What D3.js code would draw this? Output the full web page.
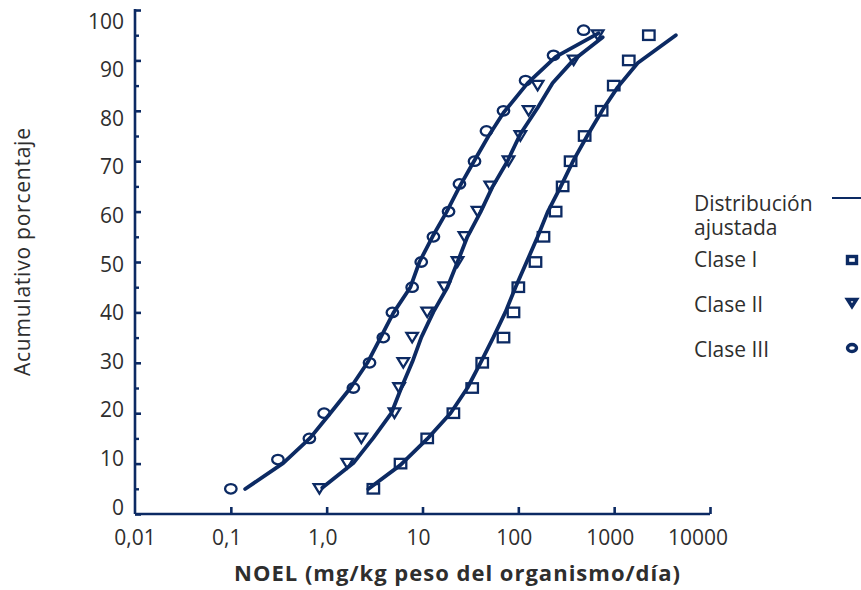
<!DOCTYPE html>
<html>
<head>
<meta charset="utf-8">
<script src="https://cdn.jsdelivr.net/npm/d3@7"></script>
<style>
  html, body { margin: 0; padding: 0; background: #ffffff; }
  svg { display: block; }
  text { font-family: "Open Sans", Lato, sans-serif; fill: #2e2e2e; }
</style>
</head>
<body>
<svg id="chart" width="861" height="590"></svg>
<script>
// ---------- data ----------
const xTickValues = [0.01, 0.1, 1, 10, 100, 1000, 10000];
const xTickLabels = ["0,01", "0,1", "1,0", "10", "100", "1000", "10000"];
const yTickValues = [0, 10, 20, 30, 40, 50, 60, 70, 80, 90, 100];
const yMinorValues = [5, 15, 25, 35, 45, 55, 65, 75, 85, 95];

// Clase I (squares)
const claseIx = [3.07, 5.9, 11.2, 21, 33, 42, 70, 89, 100, 151, 183, 245, 290, 351, 492, 740, 990, 1420, 2300];
const claseIy = [5, 10, 15, 20, 25, 30, 35, 40, 45, 50, 55, 60, 65, 70, 75, 80, 85, 90, 95];
// Clase II (triangles)
const claseIIx = [0.84, 1.64, 2.3, 5.1, 5.7, 6.3, 7.8, 11.2, 16.9, 23.2, 27.4, 37.5, 51, 79, 105, 128, 159, 378, 673];
const claseIIy = [5, 10, 15, 20, 25, 30, 35, 40, 45, 50, 55, 60, 65, 70, 75, 80, 85, 90, 95];
// Clase III (circles)
const claseIIIx = [0.10, 0.31, 0.66, 0.94, 1.9, 2.8, 3.9, 4.85, 7.8, 9.7, 13, 18.7, 24.3, 34.9, 46.5, 70, 119, 233, 480];
const claseIIIy = [5, 10.8, 15, 20, 25, 30, 35, 40, 45, 50, 55, 60, 65.5, 70, 76, 80, 86, 91, 96];

// Fitted distributions
const fitIx = [2.72, 5.87, 11.2, 19.6, 29.4, 40.3, 55, 73.5, 93.5, 122, 159, 202, 276, 377, 529, 759, 1090, 1760, 4400];
const fitIy = [4.96, 9.7, 14.9, 20, 25, 30, 35.1, 40.1, 45, 50, 55, 59.9, 64.9, 70.2, 75.2, 80.2, 84.7, 89.5, 95];
const fitIIx = [0.90, 1.90, 3.07, 4.73, 6.0, 7.84, 9.74, 13.0, 18.2, 23.2, 29.4, 40.3, 53.7, 77, 105, 159, 228, 377, 759];
const fitIIy = [5.2, 10.1, 15.1, 20, 25, 30.2, 35.1, 40.1, 45, 50, 55, 59.9, 64.9, 70, 75.4, 80.6, 85.5, 90.1, 94.6];
const fitIIIx = [0.141, 0.352, 0.674, 1.09, 1.77, 2.66, 3.63, 4.97, 7.48, 9.29, 12.7, 17.8, 24.3, 34, 48.9, 70, 125, 245, 689];
const fitIIIy = [4.96, 10.1, 15.1, 20, 25, 30, 34.9, 39.9, 45, 50, 55, 59.9, 64.9, 69.8, 75, 79.6, 85.5, 90.7, 95.4];

const legendFitLines = ["Distribución", "ajustada"];
const legendLabels = ["Clase I", "Clase II", "Clase III"];
const xTitle = "NOEL (mg/kg peso del organismo/día)";
const yTitle = "Acumulativo porcentaje";

// ---------- drawing ----------
const navy = "#0c2a63";
const svg = d3.select("#chart");

const x = d3.scaleLog().domain([0.01, 10000]).range([135, 710]);
const y = d3.scaleLinear().domain([0, 100]).range([514, 10]);

const zip = (xs, ys) => xs.map((v, i) => ({x: v, y: ys[i]}));

// y axis (ticks pointing inward)
const gy = svg.append("g").attr("transform", `translate(${x(0.01)},0)`)
  .call(d3.axisRight(y).tickValues(yTickValues).tickSize(6).tickFormat(""));
gy.select(".domain").attr("d", `M0,${y(100) - 1}V${y(0)}`);
gy.selectAll("line, path").attr("stroke", navy).attr("stroke-width", 2.6);

const gym = svg.append("g").attr("transform", `translate(${x(0.01)},0)`)
  .call(d3.axisRight(y).tickValues(yMinorValues).tickSize(4).tickFormat(""));
gym.select(".domain").remove();
gym.selectAll("line").attr("stroke", navy).attr("stroke-width", 2.4);

// y tick labels
svg.append("g").selectAll("text").data(yTickValues).join("text")
  .attr("x", 124)
  .attr("y", d => y(d) + 0.5 + d * 0.18)
  .attr("text-anchor", "end")
  .attr("font-size", 21)
  .text(d => d);

// x axis (ticks pointing inward)
const gx = svg.append("g").attr("transform", `translate(0,${y(0)})`)
  .call(d3.axisTop(x).tickValues(xTickValues.slice(1)).tickSize(7).tickFormat(""));
gx.select(".domain").attr("d", `M${x(0.01)},0H${x(10000)}`);
gx.selectAll("line, path").attr("stroke", navy).attr("stroke-width", 2.6);

svg.append("g").selectAll("text").data(xTickValues).join("text")
  .attr("x", (d, i) => x(d) - (i === 0 ? 0 : i === 6 ? 12 : 4))
  .attr("y", 545)
  .attr("text-anchor", "middle")
  .attr("font-size", 21)
  .text((d, i) => xTickLabels[i]);

// titles
svg.append("text")
  .attr("x", 234).attr("y", 581)
  .attr("font-size", 22).attr("font-weight", "bold")
  .attr("textLength", 446).attr("lengthAdjust", "spacing")
  .text(xTitle);

svg.append("text")
  .attr("transform", "translate(30,376) rotate(-90)")
  .attr("font-size", 21)
  .attr("textLength", 248).attr("lengthAdjust", "spacing")
  .text(yTitle);

// fitted lines
const line = d3.line().x(d => x(d.x)).y(d => y(d.y)).curve(d3.curveLinear);
[[fitIx, fitIy], [fitIIx, fitIIy], [fitIIIx, fitIIIy]].forEach(([xs, ys]) => {
  svg.append("path").datum(zip(xs, ys))
    .attr("d", line)
    .attr("fill", "none")
    .attr("stroke", navy)
    .attr("stroke-width", 3.8)
    .attr("stroke-linecap", "round")
    .attr("stroke-linejoin", "round");
});

// markers
const sq = (g, w, h) => g.append("rect").attr("x", -w / 2).attr("y", -h / 2).attr("width", w).attr("height", h);
const tri = (g, w, h) => g.append("path").attr("d", `M${-w / 2},${-h / 2}L${w / 2},${-h / 2}L0,${h / 2}Z`);
const ell = (g, w, h) => g.append("ellipse").attr("rx", w / 2).attr("ry", h / 2);

function markers(xs, ys, shape) {
  const g = svg.append("g");
  zip(xs, ys).forEach(d => {
    const m = g.append("g").attr("transform", `translate(${x(d.x)},${y(d.y)})`);
    shape(m, 11.5, 9.5).attr("fill", "none").attr("stroke", navy).attr("stroke-width", 2.3)
      .attr("stroke-linejoin", "miter");
  });
}
markers(claseIx, claseIy, sq);
markers(claseIIx, claseIIy, tri);
markers(claseIIIx, claseIIIy, ell);

// legend
const fitText = svg.append("text").attr("font-size", 21);
legendFitLines.forEach((t, i) => {
  fitText.append("tspan").attr("x", 694).attr("y", 211 + i * 24).text(t);
});
const legY = [267, 312, 357];
svg.append("g").selectAll("text").data(legendLabels).join("text")
  .attr("x", 694).attr("y", (d, i) => legY[i])
  .attr("font-size", 21)
  .text(d => d);

svg.append("line").attr("x1", 832).attr("x2", 861).attr("y1", 198).attr("y2", 198)
  .attr("stroke", navy).attr("stroke-width", 2);
const lm = [[sq, 260], [tri, 303], [ell, 348]];
lm.forEach(([shape, cy]) => {
  const g = svg.append("g").attr("transform", `translate(852,${cy})`);
  shape(g, 9, 7).attr("fill", "none").attr("stroke", navy).attr("stroke-width", 3.4);
});
</script>
</body>
</html>
